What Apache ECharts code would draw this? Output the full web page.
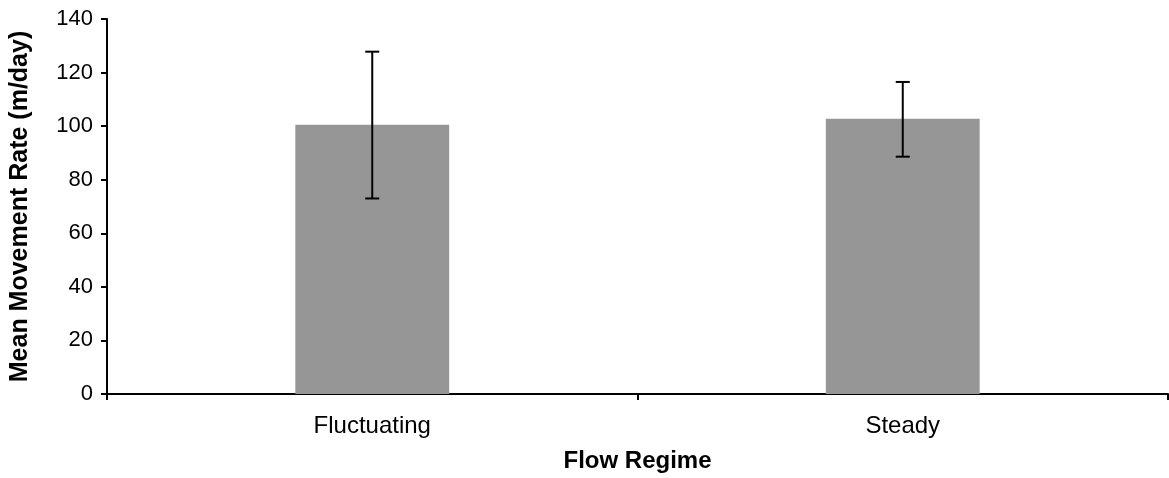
<!DOCTYPE html>
<html><head><meta charset="utf-8">
<script src="https://cdn.jsdelivr.net/npm/echarts@6/dist/echarts.min.js"></script>
<style>html,body{margin:0;padding:0;background:#fff}#c{width:1169px;height:478px}</style>
</head><body><div id="c"></div>
<script>
const categories = ['Fluctuating', 'Steady'];
const means = [100.5, 102.8];
const errLow = [73.0, 88.6];
const errHigh = [127.8, 116.5];

const chart = echarts.init(document.getElementById('c'));
const font = '"Liberation Sans", Arial, sans-serif';
chart.setOption({
  animation: false,
  grid: {left: 106, right: 1, top: 19, bottom: 83},
  xAxis: {
    type: 'category', data: categories,
    name: 'Flow Regime', nameLocation: 'middle', nameGap: 55,
    nameTextStyle: {fontFamily: font, fontSize: 24, fontWeight: 'bold', color: '#000'},
    axisLine: {lineStyle: {color: '#000', width: 2}},
    axisTick: {show: true, length: 6, lineStyle: {color: '#000', width: 2}, alignWithLabel: false},
    axisLabel: {fontFamily: font, fontSize: 24, color: '#000', margin: 20}
  },
  yAxis: {
    type: 'value', min: 0, max: 140, interval: 20,
    name: 'Mean Movement Rate (m/day)', nameLocation: 'middle', nameGap: 74,
    nameTextStyle: {fontFamily: font, fontSize: 25, fontWeight: 'bold', color: '#000'},
    axisLine: {show: true, lineStyle: {color: '#000', width: 2}},
    axisTick: {show: true, length: 6, lineStyle: {color: '#000', width: 2}},
    axisLabel: {fontFamily: font, fontSize: 22, color: '#000', margin: 14},
    splitLine: {show: false}
  },
  series: [
    {type: 'bar', data: means, barWidth: '29%', itemStyle: {color: '#969696'}},
    {
      type: 'custom', z: 10,
      data: categories.map((c, i) => [i, errLow[i], errHigh[i]]),
      renderItem: function (params, api) {
        const x = api.value(0);
        const lo = api.coord([x, api.value(1)]);
        const hi = api.coord([x, api.value(2)]);
        const hw = 7;
        const st = {stroke: '#000', lineWidth: 2};
        return {type: 'group', children: [
          {type: 'line', shape: {x1: lo[0], y1: lo[1], x2: hi[0], y2: hi[1]}, style: st},
          {type: 'line', shape: {x1: lo[0]-hw, y1: lo[1], x2: lo[0]+hw, y2: lo[1]}, style: st},
          {type: 'line', shape: {x1: hi[0]-hw, y1: hi[1], x2: hi[0]+hw, y2: hi[1]}, style: st}
        ]};
      }
    }
  ]
});
</script></body></html>
